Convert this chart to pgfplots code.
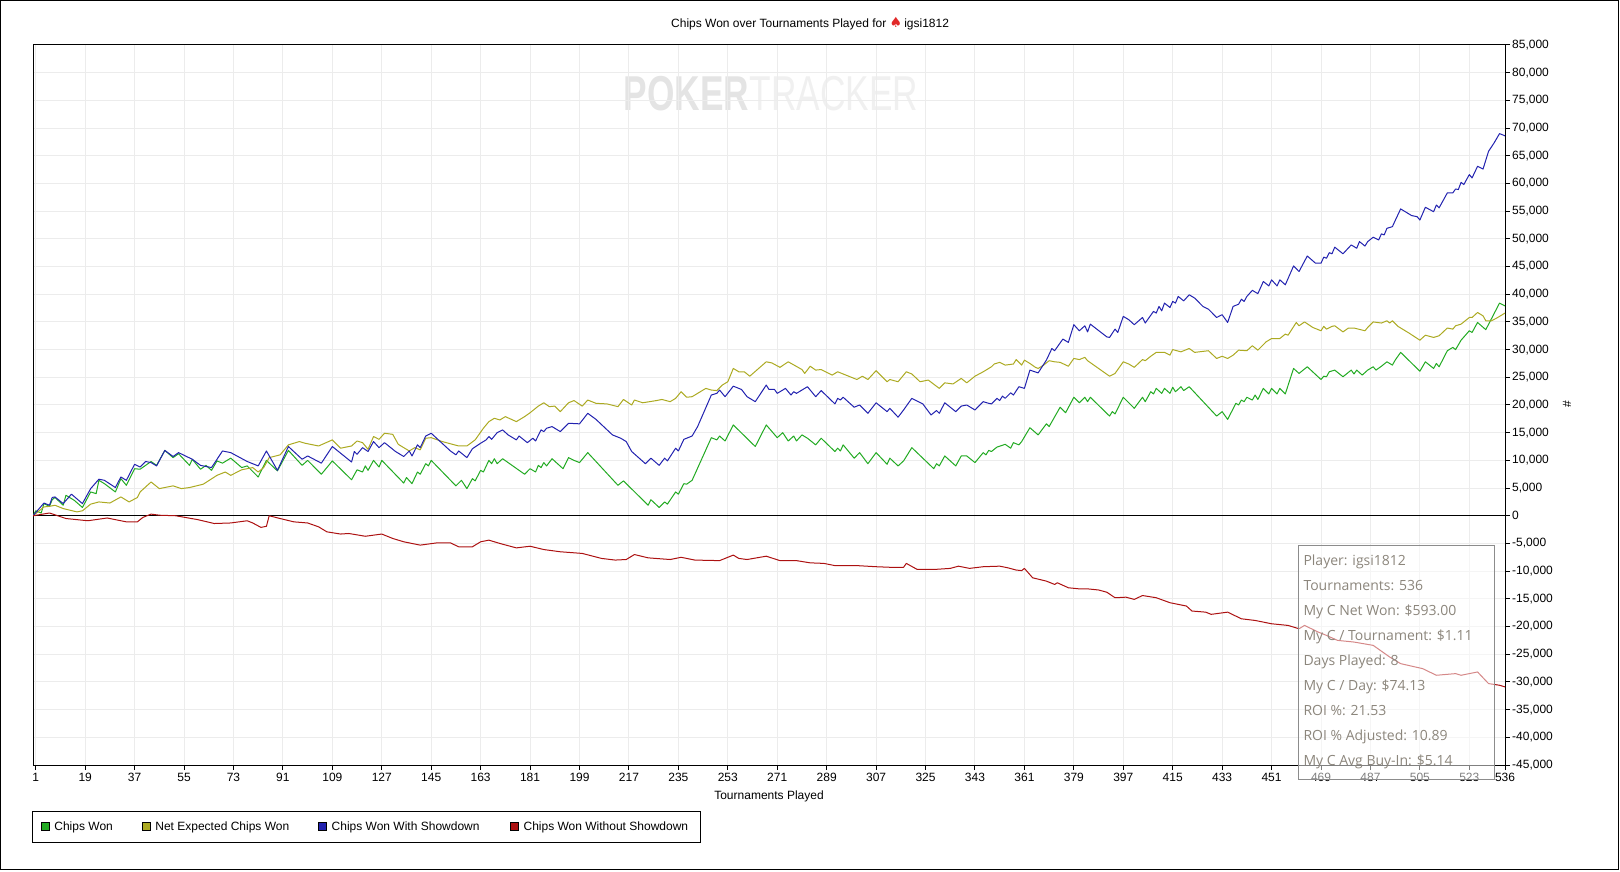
\documentclass[border=0pt]{standalone}
\usepackage{fontspec}
\setmainfont{Liberation Sans}
\newfontfamily\tipfont{Open Sans}
\newfontfamily\symfont{DejaVu Sans}
\usepackage{pgfplots}
\pgfplotsset{compat=1.18}
\definecolor{cgreen}{RGB}{34,170,34}
\definecolor{colive}{RGB}{172,170,34}
\definecolor{cblue}{RGB}{34,34,175}
\definecolor{cred}{RGB}{172,17,17}
\definecolor{gridc}{RGB}{236,236,236}
\definecolor{wma}{RGB}{228,228,228}
\definecolor{wmb}{RGB}{240,240,240}
\definecolor{tipc}{RGB}{140,134,124}
\definecolor{tipb}{RGB}{140,140,140}

\pgfplotstableread{
x y
0 0
1 900
3 500
4 2200
6 1700
7 2900
8 3300
11 1900
12 3700
15 2800
18 1500
21 4300
23 4000
24 6400
26 5800
30 4300
32 6700
34 5500
37 8500
39 8400
41 9100
43 9800
45 9100
48 11800
51 10500
53 11200
57 9100
58 10200
61 8400
63 9100
65 8200
67 9900
69 9500
72 10400
76 8700
78 9000
82 7000
85 10000
89 8100
93 11800
98 9100
100 10000
105 7500
109 9900
116 6500
118 8300
120 7900
121 9000
122 8200
124 10000
126 8800
127 10000
135 5900
136 6900
138 5800
140 7900
141 7500
143 9400
144 9000
145 10000
154 5400
156 6400
158 4900
160 6700
161 6300
163 8200
164 7900
166 10000
167 9400
168 10300
169 9400
171 10300
179 7500
181 8500
183 7900
184 9100
185 8700
186 9600
187 9000
189 10300
193 8500
195 10500
197 10000
199 9600
202 11400
213 5500
215 6300
224 1900
225 2900
228 1500
230 2500
231 2100
234 4300
235 3900
237 5800
238 5700
240 6400
247 14100
249 13700
250 14400
252 13500
255 16400
263 12500
267 16400
271 14100
273 15000
275 13500
277 14400
278 13500
280 14600
282 14000
285 12800
287 14000
292 11600
293 12200
294 11700
295 12800
299 10400
301 11400
304 9400
307 11400
311 9300
312 10400
315 9000
317 9900
320 12300
328 8500
329 9400
330 9000
332 10800
336 9000
338 10800
340 10800
343 9600
346 11400
347 11000
348 11800
349 11600
351 12400
354 12900
356 12200
357 13200
359 12800
360 13400
363 15900
366 14600
369 16600
370 16100
374 19600
376 18600
379 21400
381 20400
383 21400
384 20600
385 21400
392 18000
393 18800
394 18400
397 21400
401 19400
404 21400
405 20600
407 22400
408 22000
409 23000
411 22100
412 23000
414 22100
415 23200
416 22400
418 23300
419 22600
421 23300
431 18000
433 18800
435 17400
438 20300
439 20000
440 20900
441 20600
442 21400
444 20900
445 21800
446 21000
448 23000
450 22000
451 23000
453 22000
454 23000
456 22000
459 26600
461 25700
464 26900
469 24600
470 25200
471 25100
472 26000
474 26300
477 25100
480 26300
481 25600
482 26300
484 25400
486 26300
488 26900
489 26300
491 27000
493 27800
495 27200
496 28100
498 29500
505 26100
507 27800
510 26600
511 27500
512 26900
515 29800
517 30400
518 30000
520 31700
523 33400
524 33100
526 34900
529 33600
534 38400
536 37900
}\chipswon

\pgfplotstableread{
x y
0 0
4 1600
6 1700
8 1900
11 1300
16 700
18 900
21 2100
24 2500
28 2300
32 3400
35 2500
38 3300
39 4300
43 6100
46 4900
51 5400
54 4900
57 5100
62 5700
67 7300
70 7900
72 7300
76 8300
80 8700
82 7900
84 8700
86 10500
90 11000
93 12800
97 13400
99 13100
104 12600
109 13700
112 12200
116 12600
118 13500
120 13200
122 12000
124 14300
126 13800
128 14900
131 14700
133 12900
137 11700
139 12300
141 11900
143 14000
145 14100
149 13400
155 12600
158 12600
161 13700
164 15800
166 17000
168 17600
170 17300
172 17900
176 17000
179 17900
181 18600
184 19800
186 20400
188 19700
190 19800
192 18800
195 20400
197 20800
200 19800
202 20900
205 20300
209 20200
213 19700
215 21000
218 20000
219 20900
222 20400
227 20800
229 21000
232 20600
234 21200
236 22400
238 21400
240 21500
243 22400
245 23000
247 22700
249 22600
251 23600
253 24200
255 26600
257 26000
259 26000
261 25200
267 27800
269 27600
272 26800
275 27800
280 26400
281 25700
283 27000
285 26300
287 26400
291 25400
293 26000
300 24600
302 25200
304 24600
307 26200
311 24200
312 24600
315 24200
318 26000
320 25600
323 24200
326 24500
330 23000
332 24000
335 23800
338 24800
340 24000
343 25200
346 26000
349 26900
350 27400
352 27700
354 27200
357 27400
358 28200
360 27200
361 28100
363 27500
365 26800
366 26600
368 27200
370 28000
372 27800
374 27700
377 27000
379 28400
381 28200
383 28600
384 28000
388 26600
392 25200
394 25700
397 27800
399 27400
401 26800
404 28200
405 28000
407 28800
409 29500
412 29500
414 29000
415 30000
418 29600
421 30200
423 29500
428 29800
431 28400
433 28800
435 28400
437 29000
439 29900
442 29800
444 30700
446 29900
449 31400
451 32000
454 32000
456 32800
457 32600
460 34900
461 34300
463 35000
466 34000
469 33400
470 34200
471 33700
473 34200
474 34300
477 33200
479 33900
481 33900
485 33400
486 34000
488 35000
491 34800
493 35200
494 34800
495 35200
497 34200
501 33000
505 31700
507 32600
510 32200
512 32500
515 33900
517 33700
518 34300
520 34600
523 35800
524 35800
526 36700
528 36100
529 35200
531 35200
533 35700
536 36600
}\netexpected

\pgfplotstableread{
x y
0 0
4 2300
6 1900
7 3300
8 3400
11 2200
14 3900
18 2200
21 4900
24 6600
26 6400
30 5100
32 7000
34 6400
37 9300
39 8800
41 9800
43 9600
45 9000
48 11800
51 10700
53 11400
58 10200
61 9100
65 8700
69 11700
72 11400
78 9800
82 9000
85 11700
89 8200
93 12500
98 10200
100 10800
105 9500
109 12500
116 9700
117 11600
118 11100
120 12300
122 11600
124 13400
126 12300
128 13200
132 11600
133 11300
135 10700
137 11700
138 10800
140 12800
141 12300
143 14400
145 14900
152 11700
154 11000
155 11700
158 10500
160 12100
163 13100
165 13700
166 14300
167 13800
169 15000
171 15500
173 14600
176 13700
177 14400
180 13200
182 14000
183 13500
185 15500
186 15200
187 15800
189 16100
192 15200
195 16700
199 16600
202 18500
205 17400
211 14600
214 14000
216 13400
218 11600
223 9400
225 10400
228 9100
230 10400
231 9900
234 12200
235 11700
237 13800
238 14000
240 14400
242 16100
247 21800
249 22100
250 22700
252 21500
255 23400
258 22800
260 21500
263 20600
267 23600
268 22800
270 22800
271 22100
274 23000
276 21800
277 22400
278 22100
280 22700
282 23300
285 21500
287 22600
292 20200
293 21200
294 20900
295 21400
299 19600
301 20000
304 18500
307 20400
311 18800
312 19400
315 17800
317 19100
320 21200
324 20200
327 18200
329 19000
330 18500
332 20400
336 18800
338 19800
340 20000
343 19100
346 20600
348 20300
349 20200
351 21200
352 20800
353 21600
354 21200
356 22200
357 21800
359 23300
361 23000
363 26300
366 25800
369 28100
371 30200
372 29800
375 31900
377 31300
379 34500
381 33400
383 34300
384 33200
385 34600
391 32300
392 32200
394 33700
395 33100
397 36000
399 35400
401 34500
404 35800
405 34800
408 36900
409 36600
410 37800
411 37000
412 38400
414 37600
415 38700
416 38400
417 39600
419 38800
421 39900
423 39300
426 37800
428 37300
431 35800
433 36300
435 34900
437 37800
439 38200
440 39100
441 38700
442 39600
444 40700
446 40100
448 42300
450 41500
451 42600
453 41500
454 42600
456 41700
459 45100
461 44100
464 46900
467 45600
469 45600
470 46700
471 46500
472 47500
473 47300
474 48500
477 47300
480 48900
482 48300
483 49500
485 48700
486 49500
488 50300
490 49800
491 50900
492 50700
493 51900
495 52200
496 53300
498 55400
502 54200
504 54000
505 53400
507 55700
510 54900
511 56100
512 55600
515 58300
517 58300
518 59000
519 58900
520 60200
521 59800
523 61600
524 61000
526 63100
528 62600
530 65800
532 67300
534 69000
536 68600
}\withsd

\pgfplotstableread{
x y
0 0
6 500
12 -500
20 -900
27 -400
34 -1100
38 -1100
40 -300
43 300
46 100
52 0
60 -700
66 -1400
72 -1300
78 -900
80 -1300
83 -2100
85 -1900
86 0
90 -500
95 -1100
100 -1300
104 -2000
107 -2900
112 -3300
115 -3200
121 -3700
127 -3300
131 -4100
135 -4700
141 -5300
147 -4900
152 -4900
155 -5600
160 -5600
163 -4700
166 -4400
170 -5000
176 -5800
181 -5500
186 -6100
192 -6500
200 -6800
207 -7700
212 -8000
216 -7900
219 -7000
224 -7600
232 -7900
236 -7500
241 -8000
250 -8100
255 -7100
257 -7700
260 -7900
267 -7300
272 -8100
278 -8100
283 -8500
288 -8600
292 -9000
300 -9000
307 -9200
312 -9300
317 -9300
318 -8600
322 -9700
328 -9700
334 -9500
337 -9100
341 -9500
346 -9200
352 -9100
355 -9400
358 -9800
360 -9900
361 -9500
364 -11200
369 -11800
372 -12400
373 -12100
377 -13000
381 -13200
384 -13200
388 -13400
391 -13800
394 -14800
398 -14700
401 -15100
404 -14400
409 -14800
414 -15700
420 -16300
422 -17200
427 -17400
429 -17800
435 -17400
440 -18600
445 -18900
451 -19500
457 -19800
461 -20400
463 -19800
468 -21000
471 -21600
475 -22500
481 -22800
488 -23400
494 -25500
498 -26700
506 -27600
511 -28800
518 -28500
520 -28800
526 -28200
530 -30300
534 -30600
536 -30900
}\withoutsd

\begin{document}
\begin{tikzpicture}[x=1pt,y=1pt]
\useasboundingbox (0,0) rectangle (1620,871);
% watermark
\node[inner sep=0pt] at (771,777.7) {\fontsize{49}{49}\selectfont\scalebox{0.72}[1]{\textcolor{wma}{\textbf{POKER}}\textcolor{wmb}{TRACKER}}};
\begin{scope}[shift={(33,106)}]
\begin{axis}[
  scale only axis, width=1472pt, height=720pt,
  xmin=0, xmax=536, ymin=-45000, ymax=85000,
  xtick={1,19,37,55,73,91,109,127,145,163,181,199,217,235,253,271,289,307,325,343,361,379,397,415,433,451,469,487,505,523,536},
  ytick={-45000,-40000,...,85000},
  scaled y ticks=false,
  /pgf/number format/assume math mode=true,
  /pgf/number format/fixed,
  /pgf/number format/1000 sep={,},
  xtick pos=left, ytick pos=right, yticklabel pos=right,
  tick align=outside, major tick length=5pt,
  tick style={black, line width=1pt},
  axis line style={black, line width=1pt},
  grid=major, major grid style={draw=gridc, line width=1pt},
  tick label style={font=\fontsize{12}{14}\selectfont},
  yticklabel style={anchor=west, inner sep=2pt},
  xticklabel style={inner sep=3pt},
  xlabel={Tournaments Played},
  xlabel style={at={(rel axis cs:0.5,-0.0436)}, anchor=center, font=\fontsize{12}{14}\selectfont},
  ylabel={\#},
  ylabel style={at={(rel axis cs:1.0421,0.501)}, anchor=center, font=\fontsize{12}{14}\selectfont},
  title={Chips Won over Tournaments Played for {\color[RGB]{225,40,40}\symfont\fontsize{14}{14}\selectfont ♠}\,igsi1812},
  title style={at={(rel axis cs:0.5279,1.0215)}, anchor=center, font=\fontsize{12}{14}\selectfont},
  every axis plot/.append style={line width=1pt, line join=round},
]
\addplot[black, line width=1pt, forget plot] coordinates {(0,0) (536,0)};
\addplot[cgreen] table[x=x,y=y] {\chipswon};
\addplot[colive] table[x=x,y=y] {\netexpected};
\addplot[cblue] table[x=x,y=y] {\withsd};
\addplot[cred] table[x=x,y=y] {\withoutsd};
\end{axis}
\end{scope}
% legend
\draw[line width=1pt] (32,28.7) rectangle (700,59.3);
\begin{scope}[font=\fontsize{12}{14}\selectfont]
\draw[fill=cgreen, line width=0.7pt] (41.3,40.5) rectangle (49.3,48.5);
\node[anchor=base west, inner sep=0pt] at (54.2,40.2) {Chips Won};
\draw[fill=colive, line width=0.7pt] (142.3,40.5) rectangle (150.3,48.5);
\node[anchor=base west, inner sep=0pt] at (155.2,40.2) {Net Expected Chips Won};
\draw[fill=cblue, line width=0.7pt] (318.2,40.5) rectangle (326.2,48.5);
\node[anchor=base west, inner sep=0pt] at (331.5,40.2) {Chips Won With Showdown};
\draw[fill=cred, line width=0.7pt] (510.6,40.5) rectangle (518.6,48.5);
\node[anchor=base west, inner sep=0pt] at (523.4,40.2) {Chips Won Without Showdown};
\end{scope}
% tooltip
\fill[white, fill opacity=0.5] (1298.3,91.7) rectangle (1494.3,325.7);
\draw[tipb, line width=1pt] (1298.3,91.7) rectangle (1494.3,325.7);
\begin{scope}[font=\tipfont\fontsize{14}{16}\selectfont, text=tipc]
\node[anchor=base west, inner sep=0pt] at (1303.3,305.3) {Player: igsi1812};
\node[anchor=base west, inner sep=0pt] at (1303.3,280.3) {Tournaments: 536};
\node[anchor=base west, inner sep=0pt] at (1303.3,255.3) {My C Net Won: \$593.00};
\node[anchor=base west, inner sep=0pt] at (1303.3,230.3) {My C / Tournament: \$1.11};
\node[anchor=base west, inner sep=0pt] at (1303.3,205.3) {Days Played: 8};
\node[anchor=base west, inner sep=0pt] at (1303.3,180.3) {My C / Day: \$74.13};
\node[anchor=base west, inner sep=0pt] at (1303.3,155.3) {ROI \%: 21.53};
\node[anchor=base west, inner sep=0pt] at (1303.3,130.3) {ROI \% Adjusted: 10.89};
\node[anchor=base west, inner sep=0pt] at (1303.3,105.3) {My C Avg Buy-In: \$5.14};
\end{scope}
% outer frame
\draw[line width=1pt] (0.5,1.5) rectangle (1618.5,870.5);
\end{tikzpicture}
\end{document}
